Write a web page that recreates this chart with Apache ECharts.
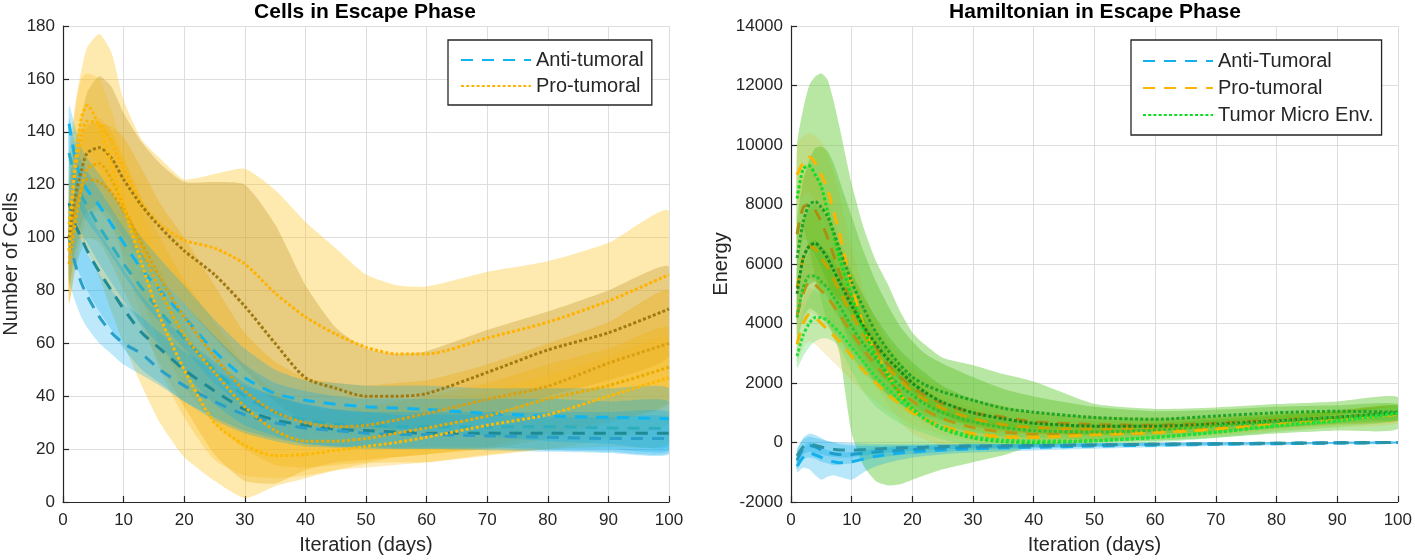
<!DOCTYPE html>
<html><head><meta charset="utf-8">
<script src="https://cdn.jsdelivr.net/npm/echarts@6/dist/echarts.min.js"></script>
<style>html,body{margin:0;padding:0;background:#fff}#c{width:1415px;height:560px}</style>
</head><body><div id="c"></div>
<script>
// ---------- Left panel: Cells in Escape Phase ----------
const daysL = [1,2,3,4,6,8,10,13,16,20,25,30,35,40,45,50,55,60,70,80,90,100];
const ticksL = {xMin:0, xMax:100, xStep:10, yMin:0, yMax:180, yStep:20};

const antiL1Mean = [143,130,122,118,112,105,98,88,80,70,57,47,41,38.5,37,36,35.5,35,33.5,32.5,32,31.5];
const antiL1Hi   = [150,142,134,130,124,117,110,100,92,82,69,58,50,46,45,44,44,44,43,43,43,43];
const antiL1Lo   = [128,118,110,106,100,93,86,76,68,58,45,36,32,31,29.5,28.5,27.5,27,25,23,22,21];
const antiL2Mean = [132,122,116,112,104,97,90,81,72,62,50,40,34,31,29.5,29,28.5,28.5,28.5,28.5,28,27.8];
const antiL2Hi   = [145,135,129,125,118,111,104,94,85,75,63,52,45,42,40,39,39,39,39,39,38,38];
const antiL2Lo   = [118,108,102,98,90,83,76,67,59,49,37,29,25,22,21,21,20.5,20.5,20.5,20,20,19.5];
const antiL3Mean = [113,105,100,95,87,80,73,64,58,50,42,35,31,29,27.5,27,26.5,26,26,26,26,26];
const antiL3Hi   = [128,120,115,110,102,95,88,78,71,62,53,45,40,37,35,34,34,34,34,34,34,34];
const antiL3Lo   = [98,90,85,80,72,65,58,50,45,38,31,26,23,21,20.5,20,20,20,20,19.5,19,18.5];
const antiL4Mean = [100,90,83,78,70,64,60,56,50,44,38,33,30,28,27,26,25.5,25.5,25,24.5,24,24];
const antiL4Hi   = [115,106,99,94,86,80,75,70,64,57,50,44,40,37,35,34,33,33,33,32,32,32];
const antiL4Lo   = [84,76,70,66,60,56,52,48,44,38,32,27,24,22,21,20.5,20,20,19.5,19,18.5,18];

const proL1Mean = [105,125,138,144,143,136,126,113,105,99,96,90,79,70,63.5,58.5,56,56,62,68,76,86];
const proL1Hi   = [130,150,163,172,177,170,152,137,130,122,124,126,118,106,96,86,82,81.5,87,91,98,110];
const proL1Lo   = [80,95,100,95,85,72,60,44,30,17,8,1.5,6,9,12,14.5,15,15,17.5,20,21,22.5];
const proL2Mean = [100,115,125,132,134,130,122,112,104,95,86,74,60,47,43,40,40,41,49,57.5,64,73];
const proL2Hi   = [120,135,145,155,161,157,147,136,128,121,121,120,105,82,66,58,56,57,65,72,80,89];
const proL2Lo   = [82,95,105,110,112,108,100,92,85,75,62,50,38,30,28,27,27,28,33,40,46,55];
const proL3Mean = [95,110,118,122,121,117,110,98,85,70,55,42,34,30,28.5,29,31,33.5,38.8,43.8,52.5,60];
const proL3Hi   = [115,130,140,143,143,142,138,126,113,100,82,64,53,47,45,44,45,46,52,60,68,80];
const proL3Lo   = [75,88,95,100,98,90,80,66,52,36,18,8,7,12,15,16,17,18,20,24,30,38];
const proL4Mean = [90,105,118,126,128,122,112,96,80,63,49,36,27,23,23,24,26,28,32.5,39,44,51];
const proL4Hi   = [105,122,135,142,145,140,130,115,100,84,68,52,42,36,35,36,38,40,45,52,58,66];
const proL4Lo   = [75,88,100,108,110,104,94,77,60,44,30,20,14,13,14,15,17,18,21,26,31,37];
const proL5Mean = [95,128,145,150,142,128,112,90,70,50,30,21.5,17.5,18,19.5,21,22.5,24.5,29,33,40,47];
const proL5Hi   = [115,148,160,162,160,148,132,110,90,68,46,35,30,30,31,33,35,37,42,48,55,62];
const proL5Lo   = [80,105,125,135,125,108,92,70,50,32,16,10,9,10,12,13,14,15,18,20,24,30];

// ---------- Right panel: Hamiltonian in Escape Phase ----------
const daysR = [1,2,3,4,5,6,7,8,10,12,14,16,18,20,22,25,30,35,40,50,60,70,80,90,100];
const ticksR = {xMin:0, xMax:100, xStep:10, yMin:-2000, yMax:14000, yStep:2000};

const antiR1Mean = [-800,-500,-350,-420,-500,-600,-650,-680,-650,-550,-460,-400,-350,-320,-290,-250,-210,-180,-160,-120,-90,-60,-40,-20,0];
const antiR1Hi   = [-400,-150,0,-50,-150,-250,-300,-330,-320,-260,-200,-170,-140,-120,-110,-90,-70,-60,-50,-30,-20,0,10,20,40];
const antiR1Lo   = [-1000,-850,-900,-1100,-1250,-1150,-1100,-1150,-1250,-1000,-800,-680,-580,-500,-450,-400,-340,-300,-270,-210,-160,-120,-90,-60,-40];
const antiR2Mean = [-600,-200,-100,-150,-250,-330,-380,-400,-400,-360,-320,-290,-260,-240,-220,-190,-160,-140,-120,-90,-60,-40,-25,-10,0];
const antiR2Hi   = [-300,150,300,250,150,50,0,-50,-100,-120,-120,-110,-100,-90,-80,-70,-60,-50,-40,-30,-15,0,10,20,30];
const antiR2Lo   = [-900,-550,-500,-550,-650,-700,-760,-750,-700,-600,-520,-470,-420,-390,-360,-310,-260,-230,-200,-150,-105,-80,-60,-40,-30];
const antiR3Mean = [-450,-150,-50,-100,-150,-200,-230,-250,-260,-240,-220,-200,-180,-170,-160,-140,-120,-110,-100,-80,-60,-40,-25,-10,0];
const antiR3Hi   = [-200,100,200,150,100,50,20,0,-20,-40,-50,-60,-60,-60,-60,-50,-40,-40,-30,-20,-10,0,10,20,30];
const antiR3Lo   = [-700,-400,-300,-350,-400,-450,-480,-500,-500,-440,-390,-340,-300,-280,-260,-230,-200,-180,-170,-140,-110,-80,-60,-40,-30];

const proR1Mean = [9000,9400,9600,9400,9000,8500,7800,7000,5300,3900,3000,2300,1600,1100,800,500,250,180,170,280,340,450,620,780,950];
const proR1Hi   = [10000,10300,10400,10300,10100,9700,9100,8300,6600,5100,4100,3300,2500,1900,1500,1100,700,550,500,550,600,700,870,1050,1250];
const proR1Lo   = [8000,8300,8400,8100,7700,7200,6500,5700,4000,2700,1900,1300,700,300,100,-100,-200,-190,-160,10,80,200,370,510,650];
const proR2Mean = [7000,7900,8000,7800,7400,6900,6300,5700,4700,3900,3200,2600,2200,1850,1600,1300,1000,850,700,600,580,650,750,850,1000];
const proR2Hi   = [8000,9000,9200,9000,8600,8100,7500,6900,5800,4900,4100,3400,2900,2500,2200,1850,1450,1250,1050,900,850,900,1000,1100,1250];
const proR2Lo   = [6000,6800,6800,6600,6200,5700,5100,4500,3600,2900,2300,1800,1500,1200,1000,750,550,450,350,300,310,400,500,600,750];
const proR3Mean = [5200,6200,6600,6500,6200,5900,5500,5100,4300,3600,3000,2500,2100,1700,1450,1150,800,600,500,450,500,600,720,850,980];
const proR3Hi   = [6000,7200,7700,7600,7300,7000,6600,6100,5200,4500,3800,3200,2700,2250,1950,1550,1150,900,750,700,720,820,950,1080,1250];
const proR3Lo   = [4400,5200,5500,5400,5100,4800,4400,4100,3400,2700,2200,1800,1500,1150,950,750,450,300,250,200,280,380,490,620,710];
const proR4Mean = [4300,5000,5400,5300,5100,4900,4600,4300,3700,3100,2600,2100,1700,1400,1100,800,500,350,280,280,350,480,640,800,960];
const proR4Hi   = [5000,5900,6400,6300,6100,5900,5600,5300,4600,3900,3300,2700,2250,1900,1550,1200,850,650,550,520,560,680,850,1020,1200];
const proR4Lo   = [3600,4100,4400,4300,4100,3900,3600,3300,2800,2300,1900,1500,1150,900,650,400,150,50,10,40,140,280,430,580,720];
const proR5Mean = [3300,4000,4300,4200,4000,3800,3600,3400,2900,2400,2000,1600,1300,1000,800,550,300,200,180,260,340,450,620,780,960];
const proR5Hi   = [3900,4800,5200,5100,4900,4700,4500,4300,3700,3100,2600,2150,1750,1400,1150,850,550,420,380,450,520,640,810,980,1180];
const proR5Lo   = [2700,3200,3400,3300,3100,2900,2700,2500,2100,1700,1400,1050,850,600,450,250,50,-20,-20,70,160,260,430,580,740];

const tmeR1Mean = [8200,9200,9300,9000,8600,7800,7000,6200,4900,3800,2900,2200,1600,1150,800,450,150,30,0,60,170,340,560,730,980];
const tmeR1Hi   = [10000,11200,12000,12300,12400,12200,11500,10600,8700,7200,6100,5300,4400,3700,3300,2850,2600,2300,2050,1300,1130,1180,1290,1380,1530];
const tmeR1Lo   = [6400,7200,6500,5600,4800,4000,3600,3000,300,-800,-1300,-1440,-1400,-1250,-1100,-900,-660,-430,-110,0,60,160,300,400,450];
const tmeR2Mean = [6200,7400,8000,8100,7900,7600,7100,6500,5400,4500,3700,3100,2600,2200,1950,1700,1420,1150,1020,840,780,890,1000,1050,1020];
const tmeR2Hi   = [7400,8800,9500,9900,9950,9800,9400,8800,7600,6400,5400,4600,3900,3400,3000,2650,2200,1800,1550,1200,1050,1100,1200,1250,1300];
const tmeR2Lo   = [5000,6000,6500,6300,5850,5400,4800,4200,3200,2600,2000,1600,1300,1000,900,750,640,500,490,480,510,680,800,850,740];
const tmeR3Mean = [5000,6200,6600,6700,6500,6200,5800,5400,4600,3900,3300,2800,2400,2000,1700,1350,1000,800,650,550,550,620,730,850,1000];
const tmeR3Hi   = [6000,7400,7900,8000,7800,7500,7100,6600,5700,4900,4200,3600,3100,2700,2350,1900,1450,1200,1000,850,800,850,950,1050,1200];
const tmeR3Lo   = [4000,5000,5300,5400,5200,4900,4500,4200,3500,2900,2400,2000,1700,1300,1050,800,550,400,300,250,300,390,510,650,800];
const tmeR4Mean = [4200,5200,5600,5600,5400,5200,4900,4600,3900,3300,2800,2300,1900,1600,1300,1000,700,500,400,350,420,560,700,840,1000];
const tmeR4Hi   = [5000,6200,6700,6800,6600,6400,6100,5700,4900,4200,3600,3000,2500,2150,1800,1400,1050,800,650,600,650,780,920,1060,1250];
const tmeR4Lo   = [3400,4200,4500,4400,4200,4000,3700,3500,2900,2400,2000,1600,1300,1050,800,600,350,200,150,100,190,340,480,620,750];
const tmeR5Mean = [2900,3600,4000,4200,4200,4100,3900,3700,3200,2700,2200,1800,1400,1100,800,500,200,80,50,60,180,350,560,730,980];
const tmeR5Hi   = [3500,4400,4900,5200,5300,5200,5000,4800,4300,3700,3100,2600,2100,1700,1350,950,550,350,280,260,380,550,760,940,1200];
const tmeR5Lo   = [2500,2900,3200,3400,3500,3500,3400,3200,2400,1700,1200,900,650,450,300,100,-100,-170,-150,-120,0,150,350,520,760];

// ---------- helpers ----------
const FONT = 'Liberation Sans, Arial, Helvetica, sans-serif';
const INK = '#262626';
const DASH = [12, 9];
const DOT = [3, 2.2];
function pts(xs, arr) { return xs.map((x, i) => [x, arr[i]]); }
function band(g, xs, lo, hi, color) {
  return {type:'custom', xAxisIndex:g, yAxisIndex:g, silent:true, z:1, clip:true,
    data:[[xs[0], lo[0]]], encode:{x:0, y:1},
    renderItem:function(params, api) {
      const up = xs.map((x, i) => api.coord([x, hi[i]]));
      const dn = xs.map((x, i) => api.coord([x, lo[i]])).reverse();
      return {type:'polygon', shape:{points:up.concat(dn), smooth:0.2},
              style:{fill:color, stroke:null}};
    }};
}
function run(g, xs, mean, name, color, dash) {
  return {type:'line', name:name, xAxisIndex:g, yAxisIndex:g, data:pts(xs, mean),
    symbol:'none', showSymbol:false, smooth:0.25, z:3, silent:true,
    lineStyle:{color:color, width:3, type:dash, cap:'butt'}, itemStyle:{color:color},
    emphasis:{disabled:true}};
}

const series = [];
// left bands
const bBlue = 'rgba(0,170,235,0.26)';
series.push(band(0, daysL, proL1Lo, proL1Hi, 'rgba(253,195,30,0.36)'));
series.push(band(0, daysL, proL2Lo, proL2Hi, 'rgba(190,150,40,0.34)'));
series.push(band(0, daysL, proL3Lo, proL3Hi, 'rgba(240,170,0,0.30)'));
series.push(band(0, daysL, proL4Lo, proL4Hi, 'rgba(240,175,0,0.28)'));
series.push(band(0, daysL, proL5Lo, proL5Hi, 'rgba(250,185,20,0.28)'));
series.push(band(0, daysL, antiL1Lo, antiL1Hi, bBlue));
series.push(band(0, daysL, antiL2Lo, antiL2Hi, bBlue));
series.push(band(0, daysL, antiL3Lo, antiL3Hi, bBlue));
series.push(band(0, daysL, antiL4Lo, antiL4Hi, bBlue));
// left lines
series.push(run(0, daysL, antiL1Mean, 'Anti-tumoral', '#10B4EE', DASH));
series.push(run(0, daysL, antiL2Mean, 'Anti-tumoral', '#2FAEBE', DASH));
series.push(run(0, daysL, antiL3Mean, 'Anti-tumoral', '#1E8A94', DASH));
series.push(run(0, daysL, antiL4Mean, 'Anti-tumoral', '#2A9FC8', DASH));
series.push(run(0, daysL, proL1Mean, 'Pro-tumoral', '#FFB300', DOT));
series.push(run(0, daysL, proL2Mean, 'Pro-tumoral', '#9E7A10', DOT));
series.push(run(0, daysL, proL3Mean, 'Pro-tumoral', '#D9A010', DOT));
series.push(run(0, daysL, proL4Mean, 'Pro-tumoral', '#EAAA00', DOT));
series.push(run(0, daysL, proL5Mean, 'Pro-tumoral', '#FFB800', DOT));

// right bands
const gBand = 'rgba(80,185,25,0.36)';
const oBand = 'rgba(215,185,30,0.20)';
series.push(band(1, daysR, tmeR1Lo, tmeR1Hi, 'rgba(105,205,60,0.48)'));
series.push(band(1, daysR, proR1Lo, proR1Hi, oBand));
series.push(band(1, daysR, proR2Lo, proR2Hi, oBand));
series.push(band(1, daysR, proR3Lo, proR3Hi, oBand));
series.push(band(1, daysR, proR4Lo, proR4Hi, oBand));
series.push(band(1, daysR, proR5Lo, proR5Hi, oBand));
series.push(band(1, daysR, tmeR2Lo, tmeR2Hi, gBand));
series.push(band(1, daysR, tmeR3Lo, tmeR3Hi, gBand));
series.push(band(1, daysR, tmeR4Lo, tmeR4Hi, gBand));
series.push(band(1, daysR, tmeR5Lo, tmeR5Hi, 'rgba(110,220,110,0.38)'));
series.push(band(1, daysR, antiR1Lo, antiR1Hi, 'rgba(0,170,235,0.28)'));
series.push(band(1, daysR, antiR2Lo, antiR2Hi, 'rgba(0,170,235,0.28)'));
series.push(band(1, daysR, antiR3Lo, antiR3Hi, 'rgba(0,170,235,0.28)'));
// right lines
series.push(run(1, daysR, antiR1Mean, 'Anti-Tumoral', '#14B0EC', DASH));
series.push(run(1, daysR, antiR2Mean, 'Anti-Tumoral', '#1E9CC8', DASH));
series.push(run(1, daysR, antiR3Mean, 'Anti-Tumoral', '#2A93A4', DASH));
series.push(run(1, daysR, proR1Mean, 'Pro-tumoral (R)', '#FFB400', DASH));
series.push(run(1, daysR, proR2Mean, 'Pro-tumoral (R)', '#A89010', DASH));
series.push(run(1, daysR, proR3Mean, 'Pro-tumoral (R)', '#C9A400', DASH));
series.push(run(1, daysR, proR4Mean, 'Pro-tumoral (R)', '#B89A10', DASH));
series.push(run(1, daysR, proR5Mean, 'Pro-tumoral (R)', '#F0B800', DASH));
series.push(run(1, daysR, tmeR1Mean, 'Tumor Micro Env.', '#10DC20', DOT));
series.push(run(1, daysR, tmeR2Mean, 'Tumor Micro Env.', '#1FA52A', DOT));
series.push(run(1, daysR, tmeR3Mean, 'Tumor Micro Env.', '#178C22', DOT));
series.push(run(1, daysR, tmeR4Mean, 'Tumor Micro Env.', '#30C030', DOT));
series.push(run(1, daysR, tmeR5Mean, 'Tumor Micro Env.', '#22E040', DOT));

function xAx(g, t) {
  return {gridIndex:g, type:'value', min:t.xMin, max:t.xMax, interval:t.xStep,
    name:'Iteration (days)', nameLocation:'middle', nameGap:33,
    nameTextStyle:{fontSize:20, color:INK, fontFamily:FONT},
    axisLine:{show:true, onZero:false, lineStyle:{color:INK, width:1.2}},
    axisTick:{show:true, inside:true, length:6, lineStyle:{color:INK, width:1.2}},
    axisLabel:{fontSize:17, color:INK, margin:10, fontFamily:FONT, formatter:v => String(v)},
    splitLine:{show:true, lineStyle:{color:'#dedede', width:1}}};
}
function yAx(g, t, name, gap) {
  return {gridIndex:g, type:'value', min:t.yMin, max:t.yMax, interval:t.yStep,
    name:name, nameLocation:'middle', nameGap:gap,
    nameTextStyle:{fontSize:20, color:INK, fontFamily:FONT},
    axisLine:{show:true, onZero:false, lineStyle:{color:INK, width:1.2}},
    axisTick:{show:true, inside:true, length:6, lineStyle:{color:INK, width:1.2}},
    axisLabel:{fontSize:17, color:INK, margin:8, fontFamily:FONT, formatter:v => String(v)},
    splitLine:{show:true, lineStyle:{color:'#dedede', width:1}}};
}
const legendBase = {orient:'vertical', itemWidth:70, itemHeight:14, itemGap:6,
  padding:[10,8,9,12], borderColor:INK, borderWidth:1.3, borderRadius:0,
  backgroundColor:'#ffffff', selectedMode:false, itemStyle:{opacity:0},
  textStyle:{fontSize:20, color:INK, fontFamily:FONT}};

const option = {
  animation:false,
  backgroundColor:'#ffffff',
  title:[
    {text:'Cells in Escape Phase', left:365, top:2, textAlign:'center', padding:0,
     textStyle:{fontSize:21, fontWeight:'bold', color:'#000', fontFamily:FONT}},
    {text:'Hamiltonian in Escape Phase', left:1095, top:2, textAlign:'center', padding:0,
     textStyle:{fontSize:21, fontWeight:'bold', color:'#000', fontFamily:FONT}}
  ],
  grid:[
    {left:61, top:26, width:608, height:481},
    {left:791, top:26, width:608, height:481}
  ],
  xAxis:[xAx(0, ticksL), xAx(1, ticksR)],
  yAxis:[yAx(0, ticksL, 'Number of Cells', 42), yAx(1, ticksR, 'Energy', 49)],
  legend:[
    Object.assign({}, legendBase, {left:448, top:40, data:['Anti-tumoral','Pro-tumoral']}),
    Object.assign({}, legendBase, {left:1131, top:40, itemGap:7, padding:[11,8,10,11],
      data:['Anti-Tumoral','Pro-tumoral (R)','Tumor Micro Env.'],
      formatter:function(n){ return n.replace(' (R)',''); }})
  ],
  series:series
};
const chart = echarts.init(document.getElementById('c'), null, {renderer:'canvas'});
chart.setOption(option);
</script></body></html>
